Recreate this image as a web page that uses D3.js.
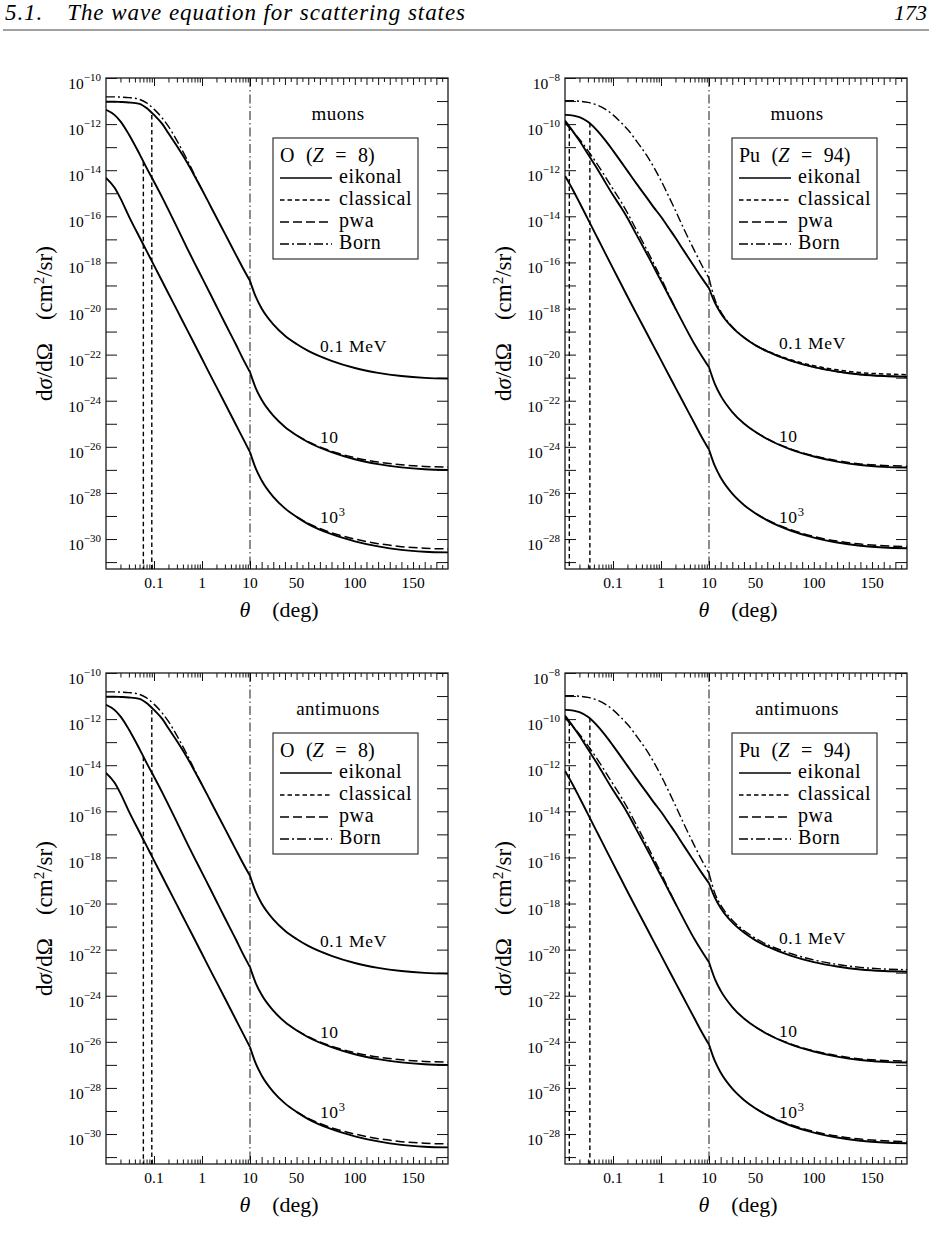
<!DOCTYPE html>
<html>
<head>
<meta charset="utf-8">
<script src="https://cdn.jsdelivr.net/npm/d3@7"></script>
<style>
  body { margin: 0; background: #fff; }
  svg, svg text { font-family: 'Liberation Serif', 'DejaVu Serif', 'Noto Serif', 'Times New Roman', Times, serif; }
  svg text { fill: #000; }
</style>
</head>
<body>
<svg id="fig" width="932" height="1246"></svg>
<script>
const thetaGrid = [0.01, 0.015, 0.02, 0.03, 0.05, 0.07, 0.1, 0.15, 0.2, 0.3, 0.5, 0.7, 1, 1.5, 2, 3, 5, 7, 10,
  15, 20, 30, 40, 50, 60, 80, 100, 120, 140, 160, 180];
const tailGrid = [50, 60, 80, 100, 120, 140, 160, 180];

// log10 of dsigma/dOmega (cm^2/sr), oxygen
const oEik01 = [-11.03, -11.03, -11.04, -11.06, -11.12, -11.3, -11.6, -12.0, -12.4, -12.95, -13.7, -14.25, -14.85, -15.55, -16.05, -16.75, -17.64, -18.22, -18.8,
  -19.5, -20.0, -20.69, -21.18, -21.54, -21.84, -22.27, -22.58, -22.79, -22.93, -23.01, -23.04];
const oEik10 = [-11.38, -11.6, -11.88, -12.45, -13.3, -13.9, -14.5, -15.2, -15.72, -16.47, -17.42, -18.03, -18.66, -19.38, -19.9, -20.63, -21.53, -22.15, -22.76,
  -23.46, -23.96, -24.65, -25.14, -25.5, -25.8, -26.23, -26.54, -26.75, -26.89, -26.97, -27.0];
const oEik1000 = [-14.33, -14.75, -15.22, -16.0, -16.91, -17.5, -18.13, -18.84, -19.35, -20.06, -20.96, -21.55, -22.18, -22.9, -23.4, -24.11, -25.01, -25.6, -26.23,
  -26.95, -27.46, -28.17, -28.67, -29.04, -29.35, -29.79, -30.1, -30.32, -30.47, -30.55, -30.58];
const oBorn01 = [-10.82, -10.82, -10.83, -10.85, -10.93, -11.08, -11.35, -11.75, -12.1, -12.72, -13.58, -14.2, -14.85];
const oPwa10 = [-25.5, -25.78, -26.19, -26.47, -26.66, -26.78, -26.85, -26.88];
const oPwa1000 = [-29.04, -29.32, -29.73, -30.0, -30.2, -30.33, -30.4, -30.43];
// classical: [cut-off angle, value where the vertical drop starts]
const oClassical = [[0.09, -11.6], [0.06, -13.63]];

// plutonium
const puEik01 = [-9.6, -9.63, -9.7, -9.9, -10.35, -10.72, -11.15, -11.66, -12.03, -12.55, -13.18, -13.6, -14.02, -14.55, -14.93, -15.5, -16.2, -16.66, -17.12,
  -17.74, -18.19, -18.82, -19.26, -19.6, -19.86, -20.26, -20.54, -20.73, -20.86, -20.93, -20.96];
const puEik10 = [-9.85, -10.35, -10.72, -11.3, -12.03, -12.55, -13.08, -13.64, -14.07, -14.75, -15.6, -16.18, -16.8, -17.5, -18.0, -18.7, -19.55, -20.05, -20.55,
  -21.27, -21.78, -22.49, -22.99, -23.36, -23.66, -24.11, -24.42, -24.64, -24.79, -24.87, -24.9];
const puEik1000 = [-12.25, -12.9, -13.4, -14.12, -15.03, -15.63, -16.26, -16.97, -17.48, -18.18, -19.05, -19.63, -20.24, -20.94, -21.43, -22.12, -22.99, -23.56, -24.12,
  -24.83, -25.33, -26.03, -26.52, -26.89, -27.19, -27.63, -27.94, -28.15, -28.29, -28.37, -28.4];
const puBorn01 = [-8.98, -8.99, -9.01, -9.06, -9.2, -9.36, -9.6, -9.95, -10.22, -10.7, -11.35, -11.85, -12.45, -13.2, -13.75, -14.55, -15.5, -16.1, -16.68,
  -17.6, -18.12, -18.79, -19.25, -19.59, -19.86, -20.26, -20.54, -20.73, -20.86, -20.93, -20.96];
const puBorn01Anti = [-8.98, -8.99, -9.01, -9.06, -9.2, -9.36, -9.6, -9.95, -10.22, -10.7, -11.35, -11.85, -12.45, -13.2, -13.75, -14.55, -15.5, -16.1, -16.68,
  -17.55, -18.06, -18.72, -19.17, -19.51, -19.78, -20.17, -20.45, -20.64, -20.77, -20.84, -20.87];
const puBorn10 = [-9.95, -10.35, -10.65, -11.15, -11.82, -12.3, -12.82, -13.4, -13.85, -14.55, -15.43, -16.03, -16.68, -17.45, -18.0];
const puClass01Tail = [-19.6, -19.84, -20.22, -20.48, -20.66, -20.78, -20.84, -20.87];
const puPwa10 = [-23.36, -23.65, -24.09, -24.39, -24.6, -24.74, -24.81, -24.84];
const puPwa1000 = [-26.89, -27.17, -27.59, -27.89, -28.09, -28.22, -28.29, -28.33];
const puClassical = [[0.033, -9.95], [0.0123, -10.1]];

const energyLabels = ['0.1 MeV', '10', '10|3'];
const legendNames = ['eikonal', 'classical', 'pwa', 'Born'];
const xLabelTicks = [0.1, 1, 10, 50, 100, 150];

const panels = [
  { x: 106, y: 78, yTop: -10, particle: 'muons', el: 'O', Z: '8',
    eik: [oEik01, oEik10, oEik1000], born: [oBorn01], pwa: [oPwa10, oPwa1000], cls: oClassical, clsTail: [],
    labelY: [-21.9, -25.85, -29.32] },
  { x: 565, y: 78, yTop: -8, particle: 'muons', el: 'Pu', Z: '94',
    eik: [puEik01, puEik10, puEik1000], born: [puBorn01, puBorn10], pwa: [puPwa10, puPwa1000], cls: puClassical, clsTail: [puClass01Tail],
    labelY: [-19.77, -23.8, -27.3] },
  { x: 106, y: 673, yTop: -10, particle: 'antimuons', el: 'O', Z: '8',
    eik: [oEik01, oEik10, oEik1000], born: [oBorn01], pwa: [oPwa10, oPwa1000], cls: oClassical, clsTail: [],
    labelY: [-21.9, -25.85, -29.32] },
  { x: 565, y: 673, yTop: -8, particle: 'antimuons', el: 'Pu', Z: '94',
    eik: [puEik01, puEik10, puEik1000], born: [puBorn01Anti, puBorn10], pwa: [puPwa10, puPwa1000], cls: puClassical, clsTail: [],
    labelY: [-19.77, -23.8, -27.3] }
];

const W = 342, H = 491;
const FONT = "'Liberation Serif', 'DejaVu Serif', 'Noto Serif', serif";
const svg = d3.select('#fig').attr('font-family', FONT);

// page header
svg.append('text').attr('x', 5).attr('y', 20).attr('font-size', 23).attr('font-style', 'italic')
  .attr('textLength', 460).attr('lengthAdjust', 'spacing')
  .text('5.1.\u2003The wave equation for scattering states');
svg.append('text').attr('x', 927).attr('y', 20).attr('font-size', 22).attr('font-style', 'italic')
  .attr('text-anchor', 'end').text('173');
svg.append('line').attr('x1', 3).attr('x2', 929).attr('y1', 30).attr('y2', 30)
  .attr('stroke', '#444').attr('stroke-width', 1);

// x axis: log 0.01..10 then linear 10..180
const xLog = d3.scaleLog().domain([0.01, 10]).range([0, 144]);
const xLin = d3.scaleLinear().domain([10, 180]).range([144, W]);
const xPos = t => (t <= 10 ? xLog(t) : xLin(t));

const minorLog = [];
[0.01, 0.1, 1].forEach(b => { for (let k = 2; k <= 9; k++) minorLog.push(+(b * k).toPrecision(3)); });
const linTall = d3.range(20, 180, 10);
const linShort = d3.range(15, 180, 10);

const dashes = { eikonal: null, classical: '4.5,3', pwa: '9,4', Born: '9,3,2,3' };

function styleAxis(g) {
  g.select('.domain').remove();
  g.attr('font-size', 15).attr('font-family', FONT);
  g.selectAll('.tick line').attr('stroke', '#111').attr('stroke-width', 1);
}

function drawPanel(p, idx) {
  const g = svg.append('g').attr('transform', `translate(${p.x},${p.y})`);
  const y = d3.scaleLinear().domain([p.yTop - 21.3, p.yTop]).range([H, 0]);
  const decades = d3.range(Math.ceil(p.yTop - 21.3), p.yTop + 1);

  // x ticks, bottom and top, pointing inward
  [[d3.axisBottom, H], [d3.axisTop, 0]].forEach(([ax, ty]) => {
    const parts = [
      ax(xLog).tickValues(minorLog).tickSize(-4.5),
      ax(xLog).tickValues([0.1, 1, 10]).tickSize(-8),
      ax(xLin).tickValues(linTall).tickSize(-7),
      ax(xLin).tickValues(linShort).tickSize(-4)
    ];
    parts.forEach(a => {
      g.append('g').attr('transform', `translate(0,${ty})`)
        .call(a.tickFormat('')).call(styleAxis);
    });
  });

  // x tick labels
  const lab = g.append('g').attr('font-size', 15.5);
  lab.selectAll('text').data(xLabelTicks).join('text')
    .attr('x', d => xPos(d)).attr('y', H + 19).attr('text-anchor', 'middle')
    .text(d => d);

  // y ticks both sides
  const gy = g.append('g').call(d3.axisLeft(y).tickValues(decades).tickSize(-11).tickPadding(5)).call(styleAxis);
  gy.selectAll('.tick text').attr('dy', '0.68em').attr('font-size', 15.5).each(function (d) {
    const t = d3.select(this);
    t.text('');
    if (d % 2 !== 0) return;
    t.append('tspan').text('10');
    t.append('tspan').attr('font-size', 11).attr('dy', -8).text('\u2212' + (-d));
  });
  g.append('g').attr('transform', `translate(${W},0)`)
    .call(d3.axisRight(y).tickValues(decades).tickSize(-11).tickFormat('')).call(styleAxis);

  // frame
  g.append('rect').attr('width', W).attr('height', H).attr('fill', 'none')
    .attr('stroke', '#1a1a1a').attr('stroke-width', 1.3);

  // clip for curves
  const clipId = 'clip' + idx;
  g.append('clipPath').attr('id', clipId).append('rect').attr('width', W).attr('height', H);
  const plot = g.append('g').attr('clip-path', `url(#${clipId})`);

  const line = d3.line().x(d => xPos(d[0])).y(d => y(d[1])).curve(d3.curveMonotoneX);
  function curve(thetas, vals, dash, width) {
    const pts = vals.map((v, i) => [thetas[i], v]);
    const segs = [pts.filter(q => q[0] <= 10), pts.filter(q => q[0] >= 10)];
    segs.forEach(s => {
      if (s.length < 2) return;
      plot.append('path').attr('d', line(s)).attr('fill', 'none').attr('stroke', '#000')
        .attr('stroke-width', width).attr('stroke-linejoin', 'round')
        .attr('stroke-dasharray', dash);
    });
  }

  // theta = 10 deg marker (scale change)
  plot.append('line').attr('x1', xPos(10)).attr('x2', xPos(10)).attr('y1', 0).attr('y2', H)
    .attr('stroke', '#000').attr('stroke-width', 0.9).attr('stroke-dasharray', '9,3,1.5,3');

  p.eik.forEach(v => curve(thetaGrid, v, null, 1.9));
  p.pwa.forEach(v => curve(tailGrid, v, dashes.pwa, 1.5));
  p.clsTail.forEach(v => curve(tailGrid, v, dashes.classical, 1.5));
  p.born.forEach(v => curve(thetaGrid, v, dashes.Born, 1.4));

  p.cls.forEach(([t, v]) => {
    plot.append('line').attr('x1', xPos(t)).attr('x2', xPos(t)).attr('y1', y(v)).attr('y2', H)
      .attr('stroke', '#000').attr('stroke-width', 1.4).attr('stroke-dasharray', dashes.classical);
  });

  // energy labels
  energyLabels.forEach((s, i) => {
    const t = g.append('text').attr('x', xPos(70)).attr('y', y(p.labelY[i]))
      .attr('font-size', 17.5).attr('letter-spacing', 0.7);
    const [base, sup] = s.split('|');
    t.append('tspan').text(base);
    if (sup) t.append('tspan').attr('font-size', 12.5).attr('dy', -7).text(sup);
  });

  // particle name
  g.append('text').attr('x', 232).attr('y', 42).attr('font-size', 19).attr('text-anchor', 'middle')
    .attr('letter-spacing', 0.5).text(p.particle);

  // legend
  const lg = g.append('g').attr('transform', 'translate(167,60)');
  lg.append('rect').attr('width', 145).attr('height', 121).attr('fill', '#fff')
    .attr('stroke', '#333').attr('stroke-width', 1.2);
  const title = lg.append('text').attr('x', 7).attr('y', 24).attr('font-size', 20)
    .attr('word-spacing', 6.5);
  title.append('tspan').text(p.el + ' (');
  title.append('tspan').attr('font-style', 'italic').text('Z');
  title.append('tspan').text(' = ' + p.Z + ')');
  legendNames.forEach((name, i) => {
    const yy = 45 + i * 22;
    lg.append('line').attr('x1', 7).attr('x2', 59).attr('y1', yy - 5).attr('y2', yy - 5)
      .attr('stroke', '#000').attr('stroke-width', 1.5).attr('stroke-dasharray', dashes[name]);
    lg.append('text').attr('x', 66).attr('y', yy).attr('font-size', 20)
      .attr('letter-spacing', 0.6).text(name);
  });

  // axis titles
  const xt = g.append('text').attr('x', W / 2 + 2).attr('y', H + 48).attr('font-size', 22).attr('text-anchor', 'middle');
  xt.append('tspan').attr('font-style', 'italic').text('\u03b8');
  xt.append('tspan').text('\u2003(deg)');

  const yt = g.append('text').attr('transform', `translate(-54,${H / 2}) rotate(-90)`)
    .attr('font-size', 23).attr('text-anchor', 'middle');
  yt.append('tspan').text('d');
  yt.append('tspan').attr('font-style', 'italic').text('\u03c3');
  yt.append('tspan').text('/d\u03a9\u2003(cm');
  yt.append('tspan').attr('font-size', 15).attr('dy', -8).text('2');
  yt.append('tspan').attr('dy', 8).text('/sr)');
}

panels.forEach(drawPanel);
</script>
</body>
</html>
